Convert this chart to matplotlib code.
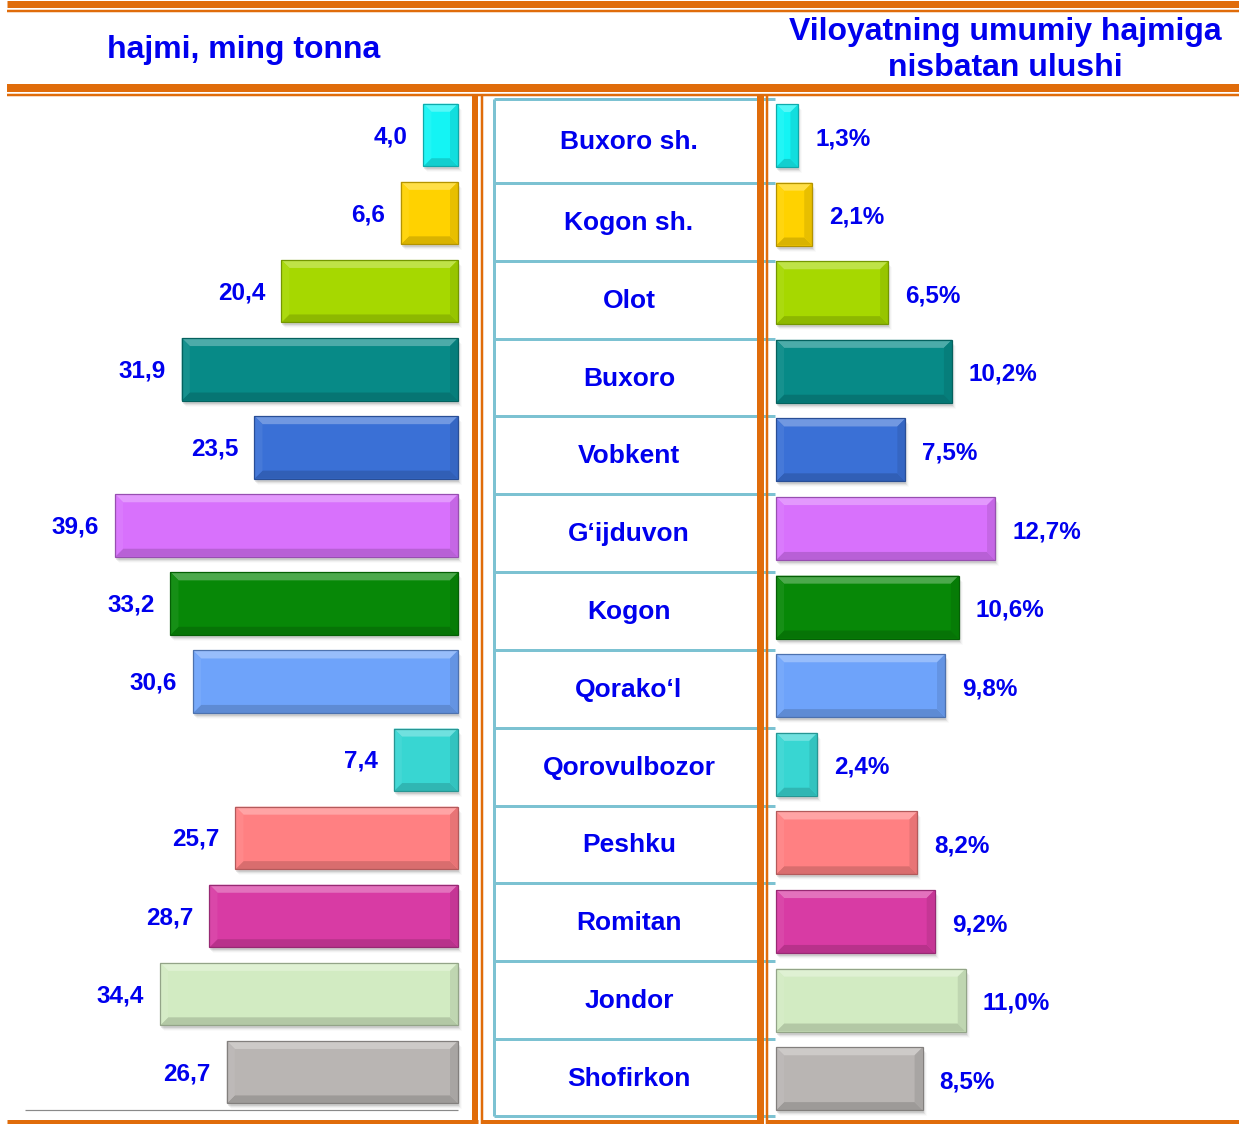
"""Tuman kesimida hajm (ming tonna) va viloyat hajmidagi ulush — ikki tomonlama bar jadval."""
import matplotlib
matplotlib.use("Agg")
import matplotlib.pyplot as plt
from matplotlib.patches import Polygon, Rectangle
from matplotlib.colors import to_rgb

plt.rcParams["font.family"] = ["Liberation Sans", "DejaVu Sans"]

districts = ["Buxoro sh.", "Kogon sh.", "Olot", "Buxoro", "Vobkent", "G\u2018ijduvon",
             "Kogon", "Qorako\u2018l", "Qorovulbozor", "Peshku", "Romitan", "Jondor",
             "Shofirkon"]
volume = [4.0, 6.6, 20.4, 31.9, 23.5, 39.6, 33.2, 30.6, 7.4, 25.7, 28.7, 34.4, 26.7]
share = [1.3, 2.1, 6.5, 10.2, 7.5, 12.7, 10.6, 9.8, 2.4, 8.2, 9.2, 11.0, 8.5]
bar_colors = ["#14F4F4", "#FFD200", "#A6D800", "#078A87", "#3A70D6", "#D871FC",
              "#078807", "#6EA3FA", "#38D6D2", "#FF8082", "#D83BA4", "#D2EBC2",
              "#B9B5B3"]

title_left = "hajmi, ming tonna"
title_right = "Viloyatning umumiy hajmiga\nnisbatan ulushi"

W, H = 1239, 1124
BLUE = "#0000EE"
ORANGE = "#E06C0A"
CYAN = "#7CC2D2"

fig = plt.figure(figsize=(W / 100, H / 100), dpi=100)


def px_axes(x0, y0, x1, y1, **kw):
    return fig.add_axes([x0 / W, 1 - y1 / H, (x1 - x0) / W, (y1 - y0) / H], **kw)


# overlay in pixel coordinates for frame lines and table
ov = px_axes(0, 0, W, H, zorder=0)
ov.set_xlim(0, W)
ov.set_ylim(H, 0)
ov.axis("off")


def hline(y, x0, x1, lw, color=ORANGE, z=2):
    ov.plot([x0, x1], [y, y], color=color, lw=lw * 0.72, solid_capstyle="butt", zorder=z)


def vline(x, y0, y1, lw, color=ORANGE, z=2):
    ov.plot([x, x], [y0, y1], color=color, lw=lw * 0.72, solid_capstyle="butt", zorder=z)


# header frame
hline(3.5, 7, W, 7)
hline(10.5, 7, W, 2.5)
hline(88, 7, W, 8)
hline(95, 7, W, 2.5)

# panel dividers
vline(475, 95, 1124, 6)
vline(482, 95, 1124, 2.5)
vline(759.5, 95, 1124, 7)
vline(767, 95, 1124, 2.5)
hline(1121.5, 7, 478, 5)
hline(1121.5, 481, 763, 5)
hline(1121.5, 766, W, 5)
hline(1110, 25, 458, 1.2, color="#8A8A8A")

# table in the middle column
rows = len(districts)
t_top, t_bot = 98.5, 1116
first_sep, last_sep = 183, 1039
step = (last_sep - first_sep) / (rows - 2)
edges = [t_top] + [first_sep + k * step for k in range(rows - 1)] + [t_bot]
vline(493.5, t_top, t_bot, 3, color=CYAN, z=1)
for y in edges:
    hline(y, 493.5, 775, 3, color=CYAN, z=1)
for i, name in enumerate(districts):
    ov.text(629, (edges[i] + edges[i + 1]) / 2 + 1, name, ha="center", va="center",
            fontsize=19, fontweight="bold", color=BLUE, zorder=3)

ov.text(244, 50, title_left, ha="center", va="center", fontsize=23,
        fontweight="bold", color=BLUE)
ov.text(1005, 50, title_right, ha="center", va="center", fontsize=23,
        fontweight="bold", color=BLUE, linespacing=1.3)


def shade(c, f):
    r, g, b = to_rgb(c)
    if f >= 0:
        return (r + (1 - r) * f, g + (1 - g) * f, b + (1 - b) * f)
    return (r * (1 + f), g * (1 + f), b * (1 + f))


def bevel(patch, color):
    """Draw a beveled bar over the patch, in pixel coordinates of the overlay."""
    bb = patch.get_window_extent(fig.canvas.get_renderer())
    x0, x1 = bb.x0, bb.x1
    y0, y1 = H - bb.y1, H - bb.y0
    d = 8
    # soft drop shadow
    for k, a in enumerate([0.09, 0.06, 0.035, 0.02]):
        ov.add_patch(Rectangle((x0 + 1 + k, y0 + 3 + k), x1 - x0, y1 - y0,
                               facecolor="black", alpha=a, lw=0, zorder=4))
    ov.add_patch(Rectangle((x0, y0), x1 - x0, y1 - y0, facecolor=color,
                           lw=0, zorder=5))
    faces = [
        ([(x0, y0), (x1, y0), (x1 - d, y0 + d), (x0 + d, y0 + d)], 0.28),
        ([(x0, y1), (x1, y1), (x1 - d, y1 - d), (x0 + d, y1 - d)], -0.15),
        ([(x0, y0), (x0 + d, y0 + d), (x0 + d, y1 - d), (x0, y1)], 0.06),
        ([(x1, y0), (x1 - d, y0 + d), (x1 - d, y1 - d), (x1, y1)], -0.09),
    ]
    for pts, f in faces:
        ov.add_patch(Polygon(pts, closed=True, facecolor=shade(color, f),
                             lw=0, zorder=6))
    ov.add_patch(Rectangle((x0, y0), x1 - x0, y1 - y0, facecolor="none",
                           edgecolor=shade(color, -0.3), lw=0.9, zorder=7))


# left bars: volume, growing to the left
axl = px_axes(0, 96, 458, 1114, zorder=1)
axl.set_xlim(458 / 8.66, 0)
axl.set_ylim((1114 - 135) / 78.1, (96 - 135) / 78.1)
axl.axis("off")
bars_l = axl.barh(range(rows), volume, height=0.80, color="none")

# right bars: share of regional total
axr = px_axes(776, 96, W, 1114, zorder=1)
axr.set_xlim(0, (W - 776) / 17.25)
axr.set_ylim((1114 - 135.5) / 78.6, (96 - 135.5) / 78.6)
axr.axis("off")
bars_r = axr.barh(range(rows), share, height=0.80, color="none")

fig.canvas.draw()
for bar, c in zip(bars_l, bar_colors):
    bevel(bar, c)
for bar, c in zip(bars_r, bar_colors):
    bevel(bar, c)

for i, v in enumerate(volume):
    axl.text(v + 16 / 8.66, i + 0.02, f"{v:.1f}".replace(".", ","), ha="right",
             va="center", fontsize=17.5, fontweight="bold", color=BLUE)
for i, v in enumerate(share):
    axr.text(v + 17 / 17.25, i + 0.04, f"{v:.1f}%".replace(".", ","), ha="left",
             va="center", fontsize=17.5, fontweight="bold", color=BLUE)

fig.savefig("out.png", dpi=100)
